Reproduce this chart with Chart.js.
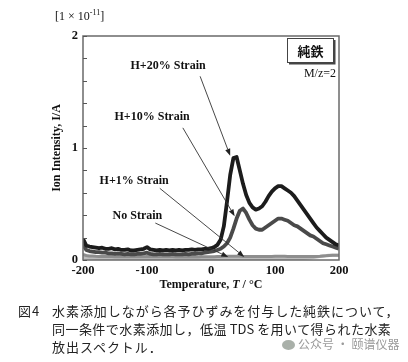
<!DOCTYPE html>
<html><head><meta charset="utf-8">
<script src="https://cdn.jsdelivr.net/npm/chart.js@4"></script>
<style>
html,body{margin:0;padding:0;background:#fff;}
#wrap{position:relative;width:408px;height:362px;overflow:hidden;background:#fff;}
canvas{position:absolute;left:0;top:0;}
.cap{position:absolute;font-family:"Noto Sans CJK JP";font-size:13px;color:#222;line-height:18px;white-space:nowrap;letter-spacing:0.95px;}
.l2{letter-spacing:0.45px;}
.tds{letter-spacing:0;}
.wm{position:absolute;left:282px;top:335px;font-family:"Noto Sans CJK SC";font-size:12px;color:#9a9a9a;white-space:nowrap;}
.ic{display:inline-block;width:13px;height:10px;border-radius:50%;background:#a9b0a9;vertical-align:-1px;margin-right:3px;}
</style></head><body>
<div id="wrap"><canvas id="c" width="408" height="362"></canvas>
<div class="cap" style="left:18px;top:302px;">図4</div>
<div class="cap" style="left:52px;top:302px;">水素添加しながら各予ひずみを付与した純鉄について，<br><span class="l2">同一条件で水素添加し，低温<span class="tds"> TDS </span>を用いて得られた水素</span><br>放出スペクトル．</div>
<div class="wm"><span class="ic"></span>公众号 · 颐谱仪器</div>
</div>
<script>
const temps = [-200,-195,-190,-185,-180,-175,-170,-165,-160,-155,
  -150,-145,-140,-135,-130,-125,-120,-115,-110,-105,
  -100,-95,-90,-85,-80,-75,-70,-65,-60,-55,
  -50,-45,-40,-35,-30,-25,-20,-15,-10,-5,
  0,5,10,15,20,25,30,35,40,45,
  50,55,60,65,70,75,80,85,90,95,
  100,105,110,115,120,125,130,135,140,145,
  150,155,160,165,170,175,180,185,190,195,
  200];
const h20 = [0.19,0.13,0.12,0.115,0.11,0.105,0.11,0.1,0.1,0.105,
  0.095,0.1,0.09,0.09,0.095,0.085,0.085,0.09,0.095,0.1,
  0.115,0.095,0.09,0.085,0.09,0.085,0.09,0.085,0.09,0.085,
  0.09,0.085,0.09,0.09,0.095,0.09,0.095,0.095,0.1,0.1,
  0.105,0.115,0.135,0.18,0.30,0.52,0.76,0.91,0.92,0.80,
  0.68,0.58,0.51,0.47,0.45,0.46,0.48,0.52,0.57,0.61,
  0.64,0.66,0.66,0.64,0.62,0.60,0.57,0.53,0.49,0.45,
  0.41,0.37,0.33,0.29,0.26,0.23,0.20,0.18,0.16,0.14,
  0.13];
const h10 = [0.14,0.09,0.08,0.075,0.07,0.07,0.065,0.065,0.06,0.06,
  0.055,0.06,0.055,0.05,0.055,0.05,0.05,0.055,0.055,0.06,
  0.065,0.055,0.05,0.05,0.055,0.05,0.05,0.05,0.055,0.05,
  0.05,0.05,0.055,0.05,0.055,0.055,0.06,0.06,0.065,0.07,
  0.075,0.08,0.09,0.10,0.12,0.15,0.20,0.28,0.37,0.44,
  0.46,0.42,0.36,0.31,0.28,0.27,0.27,0.29,0.31,0.33,
  0.35,0.37,0.37,0.36,0.35,0.33,0.31,0.30,0.28,0.26,
  0.24,0.22,0.21,0.19,0.17,0.15,0.14,0.13,0.12,0.11,
  0.10];
const h1 = [0.05,0.04,0.035,0.035,0.033,0.032,0.032,0.031,0.031,0.031,
  0.03,0.031,0.03,0.029,0.03,0.029,0.029,0.03,0.029,0.03,
  0.031,0.029,0.028,0.029,0.028,0.028,0.029,0.028,0.028,0.027,
  0.028,0.027,0.027,0.028,0.027,0.027,0.027,0.028,0.028,0.029,
  0.029,0.03,0.031,0.032,0.033,0.034,0.034,0.034,0.033,0.033,
  0.032,0.032,0.031,0.031,0.031,0.031,0.031,0.032,0.032,0.032,
  0.033,0.033,0.033,0.033,0.032,0.032,0.032,0.031,0.031,0.031,
  0.031,0.031,0.031,0.032,0.033,0.035,0.037,0.04,0.042,0.043,
  0.043];
const none = [0.025,0.018,0.016,0.015,0.014,0.014,0.013,0.013,0.013,0.013,
  0.012,0.013,0.012,0.012,0.012,0.012,0.011,0.012,0.012,0.012,
  0.013,0.012,0.011,0.011,0.011,0.011,0.011,0.011,0.011,0.011,
  0.011,0.011,0.011,0.011,0.011,0.011,0.011,0.011,0.011,0.011,
  0.011,0.011,0.011,0.011,0.011,0.011,0.011,0.011,0.011,0.011,
  0.011,0.011,0.011,0.011,0.011,0.011,0.011,0.011,0.011,0.011,
  0.011,0.011,0.011,0.011,0.011,0.012,0.012,0.012,0.013,0.014,
  0.016,0.018,0.022,0.027,0.032,0.036,0.04,0.042,0.043,0.043,
  0.042];
const seriesNames = ['H+20% Strain','H+10% Strain','H+1% Strain','No Strain'];
const xTickLabels = [-200,-100,0,100,200];
const yTickLabels = [0,1,2];

const serif = '"Liberation Serif", "DejaVu Serif", serif';
const mk = (arr) => temps.map((t,i)=>({x:t,y:arr[i]}));

const annot = [
  {text:seriesNames[0], at:[-67,1.73], from:[-17,1.64], to:[30,0.93]},
  {text:seriesNames[1], at:[-92,1.28], from:[-44,1.18], to:[37,0.39]},
  {text:seriesNames[2], at:[-120,0.71], from:[-80,0.64], to:[52,0.027]},
  {text:seriesNames[3], at:[-115,0.39], from:[-87,0.33], to:[27,0.027]}
];

const deco = {
  id:'deco',
  afterDatasetsDraw(chart){
    const ctx = chart.ctx, xs = chart.scales.x, ys = chart.scales.y, a = chart.chartArea;
    ctx.save();
    ctx.strokeStyle = '#6a6a6a'; ctx.lineWidth = 1.5;
    ctx.strokeRect(a.left, a.top, a.right-a.left, a.bottom-a.top);
    ctx.lineWidth = 1; ctx.strokeStyle = '#555';
    ys.ticks.forEach(t=>{
      const y = Math.round(ys.getPixelForValue(t.value))+0.5;
      ctx.beginPath(); ctx.moveTo(a.left, y); ctx.lineTo(a.left+4, y); ctx.stroke();
    });
    annot.forEach(an=>{
      const x1 = xs.getPixelForValue(an.from[0]), y1 = ys.getPixelForValue(an.from[1]);
      const x2 = xs.getPixelForValue(an.to[0]), y2 = ys.getPixelForValue(an.to[1]);
      ctx.strokeStyle = '#333'; ctx.fillStyle = '#222'; ctx.lineWidth = 0.9;
      const ang = Math.atan2(y2-y1, x2-x1), L = 7, W = 2.6;
      const bx = x2 - L*Math.cos(ang), by = y2 - L*Math.sin(ang);
      ctx.beginPath(); ctx.moveTo(x1,y1); ctx.lineTo(bx,by); ctx.stroke();
      ctx.beginPath(); ctx.moveTo(x2,y2);
      ctx.lineTo(bx + W*Math.sin(ang), by - W*Math.cos(ang));
      ctx.lineTo(bx - W*Math.sin(ang), by + W*Math.cos(ang));
      ctx.closePath(); ctx.fill();
      ctx.font = 'bold 12px ' + serif; ctx.fillStyle = '#111';
      ctx.textAlign = 'center'; ctx.textBaseline = 'middle';
      ctx.fillText(an.text, xs.getPixelForValue(an.at[0]), ys.getPixelForValue(an.at[1]));
    });
    const bx0 = 287, by0 = 38, bw = 46, bh = 24;
    ctx.fillStyle = '#fff'; ctx.fillRect(bx0, by0, bw, bh);
    ctx.strokeStyle = '#444'; ctx.lineWidth = 1; ctx.strokeRect(bx0+0.5, by0+0.5, bw, bh);
    ctx.lineWidth = 2; ctx.beginPath();
    ctx.moveTo(bx0+bw+1.5, by0+2); ctx.lineTo(bx0+bw+1.5, by0+bh+1.5); ctx.lineTo(bx0+2, by0+bh+1.5); ctx.stroke();
    ctx.fillStyle = '#111'; ctx.font = 'bold 13px "Noto Sans CJK JP"';
    ctx.textAlign = 'center'; ctx.textBaseline = 'middle';
    ctx.fillText('純鉄', bx0+bw/2+0.5, by0+bh/2+1);
    ctx.font = '12px ' + serif; ctx.textAlign = 'right';
    ctx.fillText('M/z=2', 336, 74);
    ctx.restore();
  },
  afterDraw(chart){
    const ctx = chart.ctx, a = chart.chartArea;
    ctx.save();
    ctx.fillStyle = '#111'; ctx.textBaseline = 'middle';
    ctx.font = '12px ' + serif; ctx.textAlign = 'left';
    let x = 55; const y0 = 17;
    ctx.fillText('[1 × 10', x, y0); x += ctx.measureText('[1 × 10').width;
    ctx.font = '8px ' + serif; ctx.fillText('-11', x, y0-4); x += ctx.measureText('-11').width;
    ctx.font = '12px ' + serif; ctx.fillText(']', x, y0);
    const cx = (a.left + a.right)/2;
    const p1 = 'Temperature, ', p2 = 'T', p3 = ' / °C';
    ctx.font = 'bold 12px ' + serif; const w1 = ctx.measureText(p1).width, w3 = ctx.measureText(p3).width;
    ctx.font = 'bold italic 12px ' + serif; const w2 = ctx.measureText(p2).width;
    let sx = cx - (w1+w2+w3)/2; const ty = 285;
    ctx.font = 'bold 12px ' + serif; ctx.fillText(p1, sx, ty); sx += w1;
    ctx.font = 'bold italic 12px ' + serif; ctx.fillText(p2, sx, ty); sx += w2;
    ctx.font = 'bold 12px ' + serif; ctx.fillText(p3, sx, ty);
    ctx.translate(57, 148); ctx.rotate(-Math.PI/2);
    ctx.font = 'bold 12px ' + serif; ctx.textAlign = 'center';
    ctx.fillText('Ion Intensity, I/A', 0, 0);
    ctx.restore();
  }
};

new Chart(document.getElementById('c'), {
  type:'line',
  data:{datasets:[
    {label:seriesNames[0], data:mk(h20), borderColor:'#1c1c1c', borderWidth:3.8},
    {label:seriesNames[1], data:mk(h10), borderColor:'#4a4a4a', borderWidth:3.8},
    {label:seriesNames[2], data:mk(h1), borderColor:'#8e8e8e', borderWidth:3},
    {label:seriesNames[3], data:mk(none), borderColor:'#bdbdbd', borderWidth:3}
  ]},
  options:{
    responsive:false, animation:false, devicePixelRatio:1, events:[],
    layout:{padding:{left:0,right:69,top:36,bottom:72}},
    elements:{point:{radius:0}, line:{tension:0, borderJoinStyle:'round'}},
    plugins:{legend:{display:false}, tooltip:{enabled:false}},
    scales:{
      x:{type:'linear', min:-200, max:200,
        afterBuildTicks(s){ s.ticks = xTickLabels.map(v=>({value:v})); },
        ticks:{font:{family:serif,size:12.5,weight:'bold'}, color:'#111', padding:3, maxRotation:0, autoSkip:false},
        grid:{display:false, drawTicks:false}, border:{display:false},
        afterFit(s){ s.height = 30; }},
      y:{min:0, max:2,
        ticks:{stepSize:0.2, autoSkip:false, font:{family:serif,size:12.5,weight:'bold'}, color:'#111', padding:5,
          callback:(v)=>{ const r = Math.round(v); return (Math.abs(v-r)<1e-6 && yTickLabels.includes(r)) ? String(r) : ''; }},
        grid:{display:false, drawTicks:false}, border:{display:false},
        afterFit(s){ s.width = 83; }}
    }
  },
  plugins:[deco]
});
</script>
</body></html>
